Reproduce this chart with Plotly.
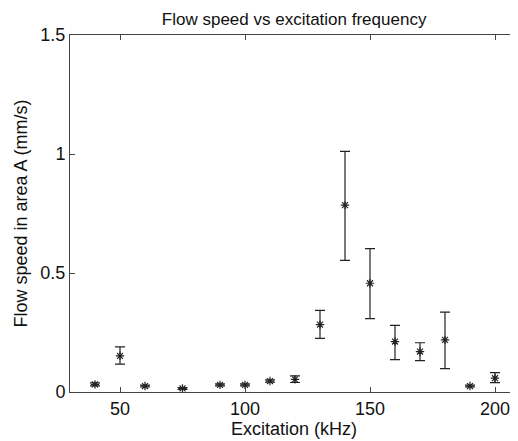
import plotly.graph_objects as go

freq_khz = [40, 50, 60, 75, 90, 100, 110, 120, 130, 140, 150, 160, 170, 180, 190, 200]
speed = [0.032, 0.152, 0.025, 0.015, 0.030, 0.030, 0.046, 0.053, 0.283, 0.785, 0.457, 0.212, 0.170, 0.219, 0.025, 0.058]
err_plus = [0.006, 0.038, 0.004, 0.004, 0.004, 0.004, 0.005, 0.015, 0.060, 0.226, 0.145, 0.068, 0.037, 0.117, 0.004, 0.023]
err_minus = [0.006, 0.035, 0.004, 0.004, 0.004, 0.004, 0.005, 0.013, 0.058, 0.232, 0.149, 0.076, 0.038, 0.121, 0.004, 0.019]

x_ticks = [50, 100, 150, 200]
y_ticks = [0, 0.5, 1, 1.5]
y_tick_labels = ["0", "0.5", "1", "1.5"]

font_family = "Liberation Sans, Arial, sans-serif"
ink = "#222222"

fig = go.Figure()
fig.add_trace(go.Scatter(
    x=freq_khz, y=speed, mode="markers",
    marker=dict(symbol="asterisk-open", size=7, color=ink, line=dict(color=ink, width=1.2)),
    error_y=dict(type="data", symmetric=False, array=err_plus, arrayminus=err_minus,
                 color=ink, thickness=1.2, width=5),
    showlegend=False,
))

fig.update_layout(
    width=510, height=433,
    margin=dict(l=62, r=0, t=27, b=49),
    paper_bgcolor="white", plot_bgcolor="white",
    font=dict(family=font_family, size=18, color="#111111"),
    title=dict(text="Flow speed vs excitation frequency", x=0.561, xanchor="center",
               y=0.975, yanchor="middle", font=dict(size=17, family=font_family, color="#111111")),
    xaxis=dict(range=[30, 209.2], tickvals=x_ticks, ticks="inside", ticklen=5, tickcolor="#444444",
               showline=True, linecolor="#444444", linewidth=1, mirror="ticks", showgrid=False,
               zeroline=False, title=dict(text="Excitation (kHz)", standoff=2, font=dict(size=18)),
               tickfont=dict(size=18)),
    yaxis=dict(range=[0, 1.5], tickvals=y_ticks, ticktext=y_tick_labels, ticks="inside", ticklen=5,
               tickcolor="#444444", showline=True, linecolor="#444444", linewidth=1, mirror="ticks",
               showgrid=False, zeroline=False,
               title=dict(text="Flow speed in area A (mm/s)", standoff=8, font=dict(size=18)),
               tickfont=dict(size=18)),
)

fig.write_html("out.html")
